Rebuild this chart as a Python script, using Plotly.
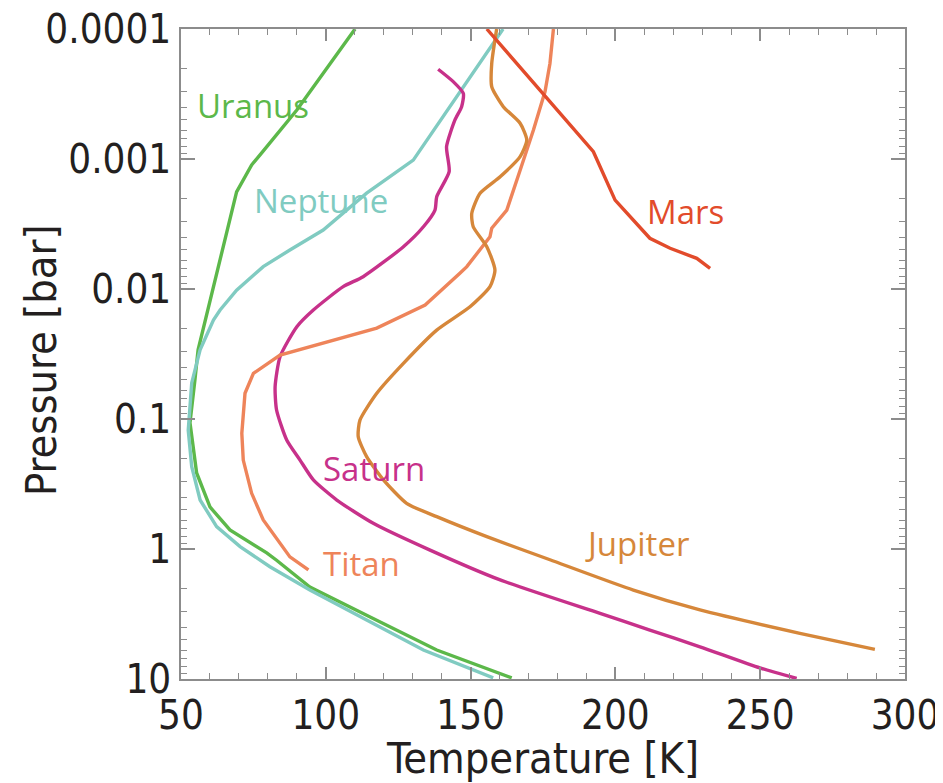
import plotly.graph_objects as go

# ---- data ----
uranus_T = [110.1, 90.0, 77.3, 74.4, 69.2, 55.9, 54.8, 53.1, 55.4, 60.0, 66.9, 79.6, 83.0, 94.5, 115.3, 138.3, 164.2]
uranus_P = [1.0e-4, 4.2e-4, 9.3e-4, 1.11e-3, 1.79e-3, 0.0294, 0.0501, 0.107, 0.26, 0.475, 0.714, 1.07, 1.22, 1.96, 3.33, 5.98, 9.8]

neptune_T = [161.2, 130.2, 114.1, 99.1, 87.6, 78.4, 69.2, 63.5, 61.2, 56.6, 53.7, 52.5, 53.7, 56.6, 62.3, 70.4, 80.7, 94.5, 114.1, 133.7, 157.8]
neptune_P = [1.0e-4, 1.02e-3, 1.83e-3, 3.52e-3, 5.01e-3, 6.73e-3, 0.0102, 0.0145, 0.0173, 0.0294, 0.0528, 0.122, 0.233, 0.42, 0.673, 0.959, 1.37, 2.07, 3.52, 5.98, 9.8]

saturn_T = [138.8, 144.0, 147.5, 146.9, 144.6, 141.7, 142.6, 138.3, 137.7, 133.7, 126.8, 112.9, 106.0, 95.7, 90.0, 84.2, 82.5, 83.0, 86.5, 91.1, 95.7, 103.8, 116.4, 136.0, 160.2, 194.7, 211.9, 229.2, 249.9, 262.6]
saturn_P = [2.04e-4, 2.54e-4, 3.13e-4, 3.96e-4, 5.01e-4, 8.04e-4, 1.25e-3, 1.95e-3, 2.47e-3, 3.32e-3, 4.73e-3, 8.04e-3, 9.59e-3, 0.0145, 0.0195, 0.0332, 0.0565, 0.0853, 0.145, 0.207, 0.294, 0.42, 0.634, 1.02, 1.73, 3.13, 4.2, 5.65, 8.22, 9.89]

titan_T = [178.6, 177.4, 175.7, 171.7, 167.1, 162.5, 157.3, 156.7, 148.7, 146.3, 134.3, 117.6, 84.2, 75.0, 72.1, 71.0, 71.5, 74.4, 78.4, 87.6, 94.0]
titan_P = [1.0e-4, 1.84e-4, 3.03e-4, 5.98e-4, 1.22e-3, 2.47e-3, 3.41e-3, 3.96e-3, 6.73e-3, 7.57e-3, 0.0133, 0.02, 0.0322, 0.0446, 0.0634, 0.129, 0.207, 0.373, 0.598, 1.15, 1.45]

jupiter_T = [159.0, 157.3, 157.3, 161.3, 167.1, 169.4, 167.1, 160.2, 153.2, 150.4, 150.9, 155.6, 158.4, 156.7, 149.8, 138.3, 126.8, 117.6, 111.8, 111.2, 114.1, 119.9, 127.9, 138.3, 155.6, 177.4, 206.2, 229.2, 263.7, 289.6]
jupiter_P = [1.0e-4, 1.84e-4, 2.78e-4, 3.96e-4, 5.31e-4, 7.14e-4, 9.59e-4, 1.37e-3, 1.84e-3, 2.62e-3, 3.32e-3, 4.73e-3, 7.14e-3, 9.59e-3, 0.0137, 0.0207, 0.0373, 0.0634, 0.102, 0.137, 0.195, 0.294, 0.445, 0.564, 0.804, 1.21, 2.07, 2.94, 4.45, 5.92]

mars_T = [155.6, 174.0, 192.4, 199.9, 211.9, 218.9, 228.1, 232.7]
mars_P = [1.0e-4, 2.94e-4, 8.79e-4, 2.07e-3, 4.07e-3, 4.86e-3, 5.81e-3, 6.93e-3]

y_tickvals = [1e-4, 1e-3, 1e-2, 1e-1, 1, 10]
y_ticktext = ["0.0001", "0.001", "0.01", "0.1", "1", "10"]
x_tickvals = [50, 100, 150, 200, 250, 300]

# ---- styling ----
C_URANUS = "#5cb84a"
C_NEPTUNE = "#80cbc1"
C_SATURN = "#c7318a"
C_TITAN = "#ee845a"
C_JUPITER = "#d6873a"
C_MARS = "#e24b2b"
AXIS_C = "#8c8c8c"
TXT_C = "#231f20"
NARROW = "Liberation Sans Narrow, DejaVu Sans Condensed, Roboto"
TICK_FONT = dict(family=NARROW, size=40, color=TXT_C)
TITLE_FONT = dict(family=NARROW, size=43, color=TXT_C)
LABEL_FONT = "Open Sans"

series = [
    ("Uranus", uranus_T, uranus_P, C_URANUS, "linear"),
    ("Neptune", neptune_T, neptune_P, C_NEPTUNE, "linear"),
    ("Saturn", saturn_T, saturn_P, C_SATURN, "spline"),
    ("Titan", titan_T, titan_P, C_TITAN, "linear"),
    ("Jupiter", jupiter_T, jupiter_P, C_JUPITER, "spline"),
    ("Mars", mars_T, mars_P, C_MARS, "linear"),
]

fig = go.Figure()
for name, T, P, col, shape in series:
    line = dict(color=col, width=3.4, shape=shape)
    if shape == "spline":
        line["smoothing"] = 0.6
    fig.add_trace(go.Scatter(x=T, y=P, mode="lines", name=name, line=line,
                             hoverinfo="skip"))

# label positions: (text, temperature, log10 pressure, colour)
labels = [
    ("Uranus", 74.7, -3.41, C_URANUS),
    ("Neptune", 98.3, -2.68, C_NEPTUNE),
    ("Mars", 224.2, -2.60, C_MARS),
    ("Saturn", 116.6, -0.62, C_SATURN),
    ("Titan", 112.2, 0.11, C_TITAN),
    ("Jupiter", 207.3, -0.04, C_JUPITER),
]
for txt, x, y, col in labels:
    fig.add_annotation(x=x, y=y, yref="y", xref="x", text=txt, showarrow=False,
                       font=dict(family=LABEL_FONT, size=33, color=col),
                       xanchor="center", yanchor="middle")

# y-axis title placed as rotated text left of the tick labels
fig.add_annotation(x=-0.194, y=0.49, xref="paper", yref="paper", text="Pressure [bar]",
                   textangle=-90, showarrow=False, font=TITLE_FONT,
                   xanchor="center", yanchor="middle")

fig.update_xaxes(
    range=[50, 300], tickvals=x_tickvals, ticks="inside", ticklen=12, tickwidth=1.5,
    tickcolor=AXIS_C, showline=True, linecolor=AXIS_C, linewidth=1.5, mirror="allticks",
    showgrid=False, zeroline=False, tickfont=TICK_FONT, automargin=False,
    ticklabeloverflow="allow",
    minor=dict(dtick=10, ticks="inside", ticklen=6, tickwidth=1.2, tickcolor=AXIS_C, showgrid=False),
    title=dict(text="Temperature [K]", font=TITLE_FONT),
)
fig.update_yaxes(
    type="log", range=[1, -4], tickvals=y_tickvals, ticktext=y_ticktext,
    ticks="inside", ticklen=14, tickwidth=1.5, tickcolor=AXIS_C,
    showline=True, linecolor=AXIS_C, linewidth=1.5, mirror="allticks",
    showgrid=False, zeroline=False, tickfont=TICK_FONT, automargin=False,
    ticklabeloverflow="allow",
    minor=dict(dtick="D1", ticks="inside", ticklen=6, tickwidth=1.2, tickcolor=AXIS_C, showgrid=False),
)
# page body has an 8px margin, so the figure is sized to fit the window after it
fig.update_layout(
    width=935, height=775, margin=dict(l=173, r=38, t=21, b=104),
    plot_bgcolor="white", paper_bgcolor="white", showlegend=False,
)
fig.write_html("out.html")
